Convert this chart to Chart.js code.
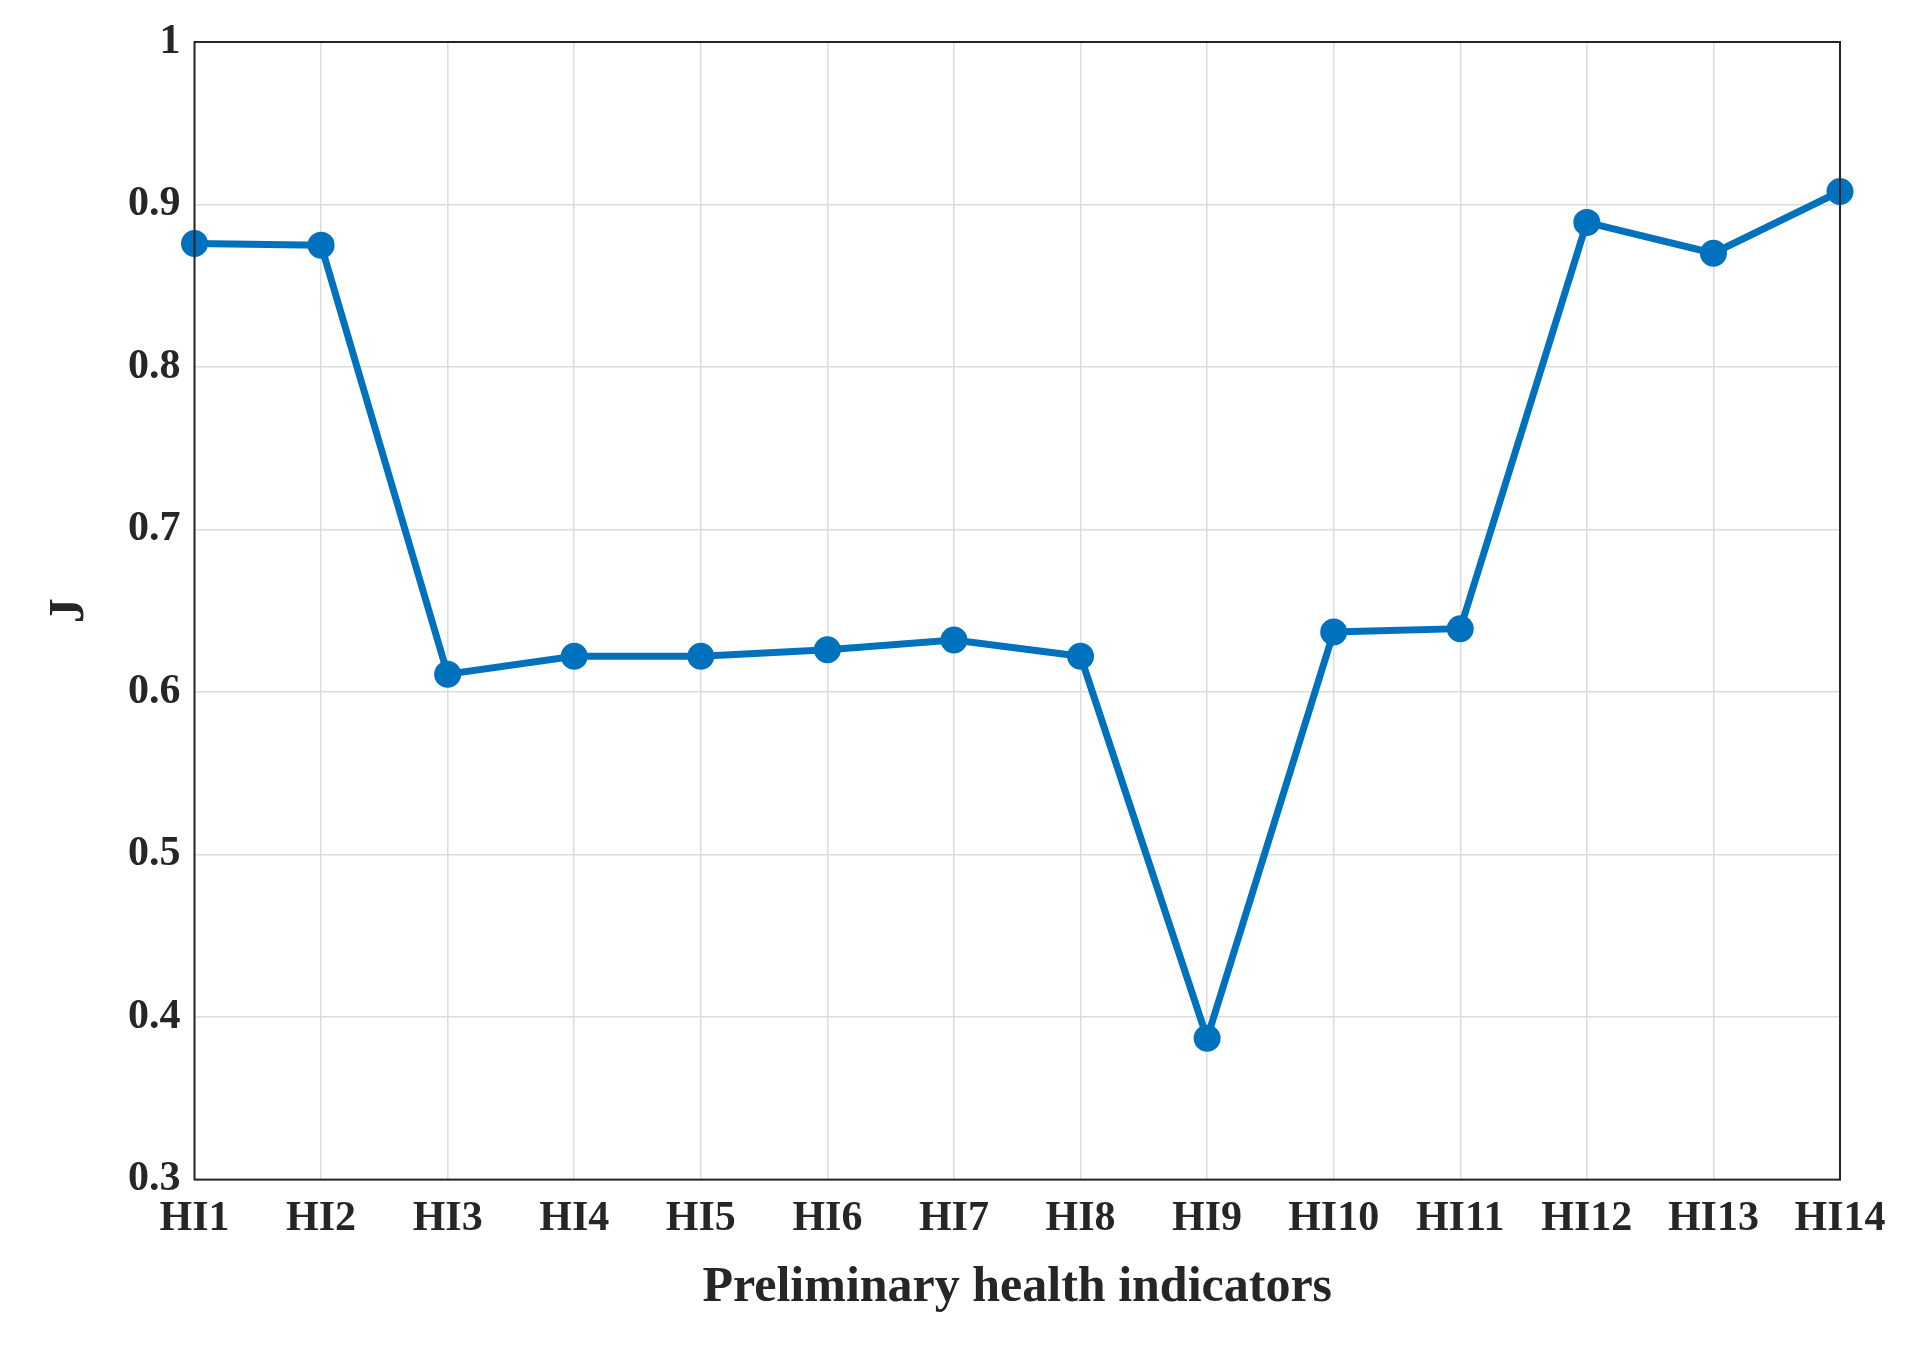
<!DOCTYPE html>
<html>
<head>
<meta charset="utf-8">
<script src="https://cdn.jsdelivr.net/npm/chart.js@4"></script>
<style>
  html, body { margin: 0; padding: 0; background: #fff; }
  #wrap { width: 1913px; height: 1368px; }
</style>
</head>
<body>
<div id="wrap"><canvas id="chart"></canvas></div>
<script>
const categories = ['HI1','HI2','HI3','HI4','HI5','HI6','HI7','HI8','HI9','HI10','HI11','HI12','HI13','HI14'];
const jValues = [0.876, 0.875, 0.611, 0.622, 0.622, 0.626, 0.632, 0.622, 0.387, 0.637, 0.639, 0.889, 0.870, 0.908];
const yTicks = [0.3, 0.4, 0.5, 0.6, 0.7, 0.8, 0.9, 1];

const font = 'Liberation Serif';

// box around the plot area, like MATLAB "box on"
const boxPlugin = {
  id: 'box',
  afterDraw(chart) {
    const a = chart.chartArea, ctx = chart.ctx;
    ctx.save();
    ctx.strokeStyle = '#262626';
    ctx.lineWidth = 2;
    ctx.strokeRect(a.left, a.top, a.right - a.left, a.bottom - a.top);
    ctx.restore();
  }
};

new Chart(document.getElementById('chart'), {
  type: 'line',
  data: {
    labels: categories,
    datasets: [{
      data: jValues,
      borderColor: '#0072BD',
      backgroundColor: '#0072BD',
      borderWidth: 7,
      pointRadius: 10,
      pointHoverRadius: 10,
      tension: 0
    }]
  },
  options: {
    responsive: true,
    maintainAspectRatio: false,
    animation: false,
    layout: { padding: { left: 36, right: 73, top: 42, bottom: 46 } },
    plugins: { legend: { display: false }, tooltip: { enabled: false } },
    scales: {
      x: {
        offset: false,
        grid: { color: '#dcdcdc', lineWidth: 1.5, drawTicks: false },
        border: { display: false },
        ticks: { color: '#262626', font: { family: font, size: 42, weight: 'bold' }, padding: 14, maxRotation: 0, autoSkip: false },
        title: { display: true, text: 'Preliminary health indicators', color: '#262626', font: { family: font, size: 50, weight: 'bold' }, padding: { top: 0 } }
      },
      y: {
        min: 0.3, max: 1,
        afterBuildTicks: axis => { axis.ticks = yTicks.map(v => ({ value: v })); },
        grid: { color: '#dcdcdc', lineWidth: 1.5, drawTicks: false },
        border: { display: false },
        ticks: { color: '#262626', font: { family: font, size: 42, weight: 'bold' }, padding: 14, callback: v => String(v) },
        title: { display: true, text: 'J', color: '#262626', font: { family: font, size: 50, weight: 'bold' }, padding: { bottom: 14 } }
      }
    }
  },
  plugins: [boxPlugin]
});
</script>
</body>
</html>
